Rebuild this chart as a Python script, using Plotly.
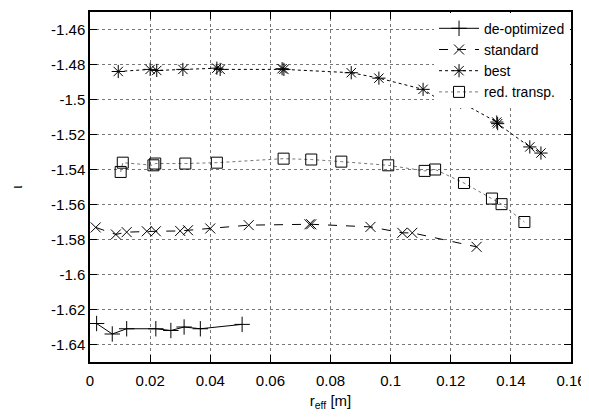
import plotly.graph_objects as go

# ---- data ----
deopt_x = [0.0022, 0.0074, 0.0122, 0.0219, 0.0269, 0.0313, 0.0367, 0.0506]
deopt_y = [-1.628, -1.634, -1.631, -1.631, -1.632, -1.630, -1.631, -1.6285]

std_x = [0.0019, 0.0086, 0.0122, 0.0189, 0.0219, 0.0300, 0.0326, 0.0400, 0.0528,
         0.0730, 0.0736, 0.0933, 0.1039, 0.1072, 0.1286]
std_y = [-1.5731, -1.5771, -1.5758, -1.5753, -1.5753, -1.5751, -1.5747, -1.5737, -1.5718,
         -1.5713, -1.5713, -1.5728, -1.5762, -1.5762, -1.5842]

best_x = [0.0094, 0.0200, 0.0222, 0.0309, 0.0422, 0.0433, 0.0639, 0.0645, 0.0869,
          0.0961, 0.1108, 0.1169, 0.1233, 0.1353, 0.1356, 0.1463, 0.1500]
best_y = [-1.4840, -1.4828, -1.4834, -1.4828, -1.4821, -1.4828, -1.4824, -1.4828, -1.4847,
          -1.4878, -1.4942, -1.5009, -1.5015, -1.5129, -1.5138, -1.5271, -1.5306]

red_x = [0.0102, 0.0109, 0.0211, 0.0217, 0.0317, 0.0422, 0.0644, 0.0736, 0.0836,
         0.0992, 0.1113, 0.1148, 0.1244, 0.1337, 0.1369, 0.1445]
red_y = [-1.5414, -1.5361, -1.5376, -1.5366, -1.5366, -1.5361, -1.5338, -1.5343, -1.5355,
         -1.5376, -1.5408, -1.5400, -1.5477, -1.5566, -1.5598, -1.5700]

x_ticks = [0, 0.02, 0.04, 0.06, 0.08, 0.1, 0.12, 0.14, 0.16]
x_labels = ["0", "0.02", "0.04", "0.06", "0.08", "0.1", "0.12", "0.14", "0.16"]
y_ticks = [-1.46, -1.48, -1.5, -1.52, -1.54, -1.56, -1.58, -1.6, -1.62, -1.64]
y_labels = ["-1.46", "-1.48", "-1.5", "-1.52", "-1.54", "-1.56", "-1.58", "-1.6", "-1.62", "-1.64"]

series = [
    ("de-optimized", deopt_x, deopt_y, "solid", "black", "cross-thin", 11),
    ("standard", std_x, std_y, "dash", "black", "x-thin", 10),
    ("best", best_x, best_y, "dot", "black", "asterisk", 11),
    ("red. transp.", red_x, red_y, "dot", "#777777", "square-open", 11),
]

fig = go.Figure()
for name, xs, ys, dash, lc, sym, ms in series:
    fig.add_trace(go.Scatter(
        x=xs, y=ys, name=name, mode="lines+markers",
        line=dict(color=lc, width=1, dash=dash),
        marker=dict(symbol=sym, size=ms, color="black",
                    line=dict(color="black", width=1)),
    ))

axis_common = dict(
    showline=True, linecolor="black", linewidth=1.5, mirror="ticks",
    ticks="inside", ticklen=7, tickcolor="black", automargin=False,
    showgrid=True, gridcolor="#777777", griddash="dot", gridwidth=1,
    zeroline=False, tickfont=dict(size=15, color="black"),
)

# the page body adds an 8px offset, so the figure is 581x411 with margins shifted
fig.update_layout(
    width=581, height=411,
    margin=dict(l=82, r=18, t=4, b=57),
    paper_bgcolor="white", plot_bgcolor="white",
    font=dict(family="Liberation Sans, Arial, sans-serif", size=15, color="black"),
    xaxis=dict(range=[0, 0.16], tickvals=x_ticks, ticktext=x_labels,
               ticklabelstandoff=4,
               title=dict(text="r<sub>eff</sub> [m]", standoff=8, font=dict(size=15)),
               **axis_common),
    yaxis=dict(range=[-1.65, -1.45], tickvals=y_ticks, ticktext=y_labels,
               title=dict(text="ι", standoff=26, font=dict(size=15)),
               **axis_common),
    legend=dict(x=0.998, y=0.998, xanchor="right", yanchor="top",
                bgcolor="white", borderwidth=0, font=dict(size=14),
                tracegroupgap=0, itemwidth=40),
    showlegend=True,
)

fig.write_html("out.html")
